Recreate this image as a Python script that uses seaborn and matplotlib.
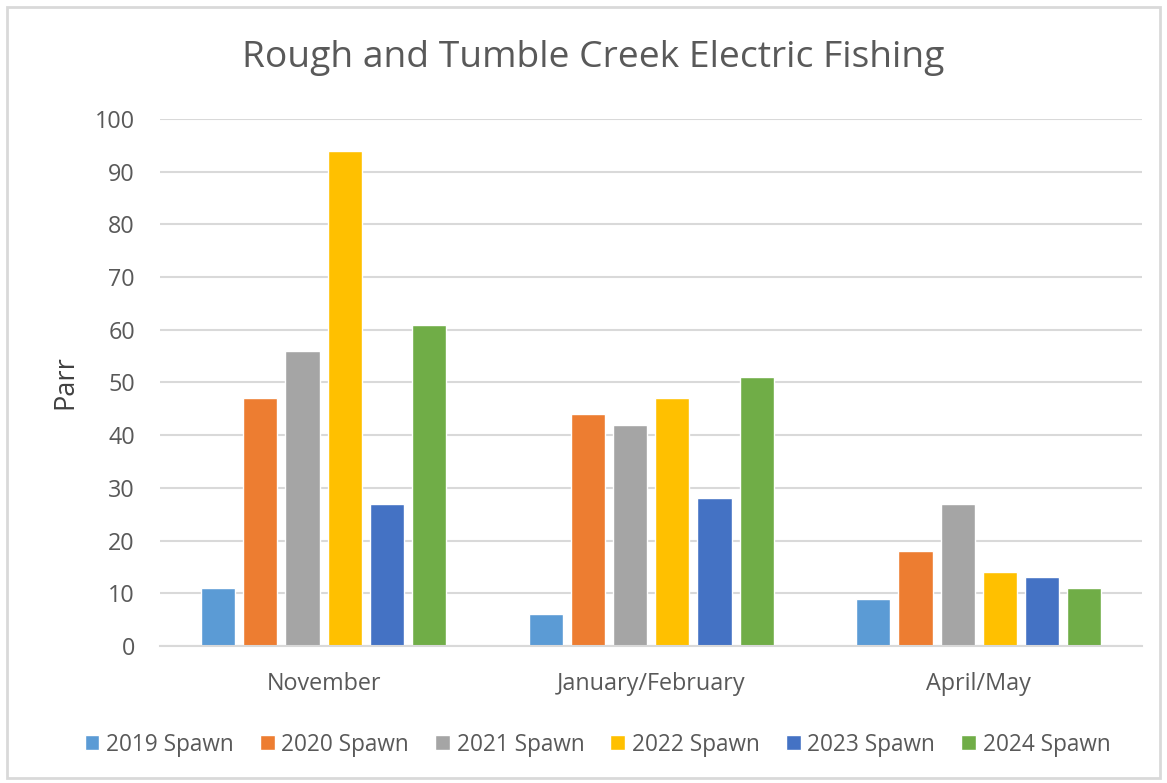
import matplotlib
matplotlib.use("Agg")
import matplotlib.pyplot as plt
from matplotlib.patches import Rectangle
import seaborn as sns
import pandas as pd

# Parr counts per survey period for each spawning year
periods = ["November", "January/February", "April/May"]
spawn_years = ["2019 Spawn", "2020 Spawn", "2021 Spawn", "2022 Spawn", "2023 Spawn", "2024 Spawn"]
spawn_2019 = [11, 6, 9]
spawn_2020 = [47, 44, 18]
spawn_2021 = [56, 42, 27]
spawn_2022 = [94, 47, 14]
spawn_2023 = [27, 28, 13]
spawn_2024 = [61, 51, 11]
yticks = [0, 10, 20, 30, 40, 50, 60, 70, 80, 90, 100]

colors = ["#5B9BD5", "#ED7D31", "#A5A5A5", "#FFC000", "#4472C4", "#70AD47"]

series = [spawn_2019, spawn_2020, spawn_2021, spawn_2022, spawn_2023, spawn_2024]
rows = []
for name, vals in zip(spawn_years, series):
    for p, v in zip(periods, vals):
        rows.append({"Period": p, "Spawn": name, "Parr": v})
df = pd.DataFrame(rows)

sns.set_theme(style="white")
plt.rcParams["font.family"] = ["Open Sans", "DejaVu Sans"]
text_col = "#595959"

fig = plt.figure(figsize=(11.67, 7.83), dpi=100)
ax = fig.add_axes([0.137, 0.175, 0.842, 0.673])

sns.barplot(data=df, x="Period", y="Parr", hue="Spawn", order=periods,
            hue_order=spawn_years, palette=colors, width=0.773, gap=0.19,
            saturation=1, errorbar=None, ax=ax, legend=True)

ax.set_ylim(0, 100)
ax.set_yticks(yticks)
ax.set_xlim(-0.5, 2.5)
ax.yaxis.grid(True, color="#D9D9D9", linewidth=1.5)
ax.set_axisbelow(True)
for s in ["top", "right", "left"]:
    ax.spines[s].set_visible(False)
ax.spines["bottom"].set_color("#D9D9D9")
ax.spines["bottom"].set_linewidth(1.5)
ax.tick_params(axis="both", length=0, labelsize=16.8, labelcolor=text_col)
ax.tick_params(axis="y", pad=18)
ax.tick_params(axis="x", pad=19)
ax.set_xlabel("")
ax.set_ylabel("Parr", fontsize=19.5, color="#404040", labelpad=11)

fig.suptitle("Rough and Tumble Creek Electric Fishing", fontsize=26.8,
             color=text_col, x=0.508, y=0.926, va="center")

handles, labels = ax.get_legend_handles_labels()
ax.legend_.remove()
fig.legend(handles, labels, loc="center", bbox_to_anchor=(0.512, 0.049),
           ncol=6, frameon=False, fontsize=16.3, labelcolor=text_col,
           handlelength=0.65, handleheight=0.65, handletextpad=0.3,
           columnspacing=1.15)

# Light chart-area border
fig.patches.append(Rectangle((7 / 1167, 5 / 783), 1153 / 1167, 771 / 783,
                             transform=fig.transFigure, fill=False,
                             edgecolor="#D9D9D9", linewidth=2))

fig.savefig("out.png", dpi=100)
